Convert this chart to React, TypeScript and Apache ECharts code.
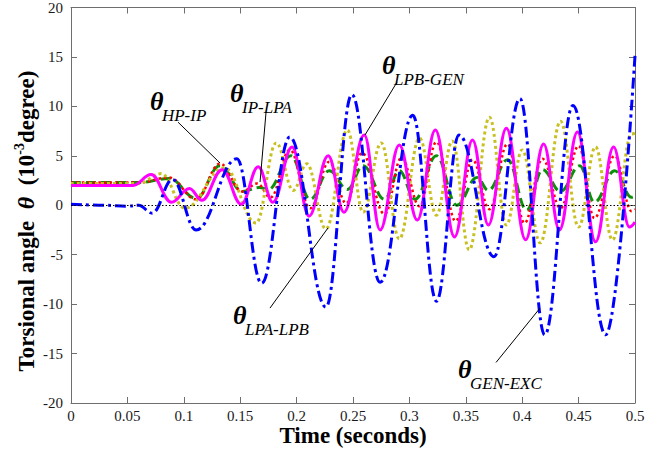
import React, { useEffect, useRef } from "react";
import * as echarts from "echarts";

// ---- data (time s, angle 1e-3 degree) ----
const hpIp: [number, number][] = [
  [0, 2.3], [0.06, 2.3], [0.087, 2.7], [0.111, 0.7], [0.132, 4.0], [0.152, 1.4], [0.167, 1.8], [0.175, 1.6],
  [0.195, 5.0], [0.212, 0.6], [0.229, 3.5], [0.245, 1.6], [0.259, 4.0], [0.278, 0.6], [0.291, 3.5], [0.305, 0.6],
  [0.324, 5.0], [0.342, 0.0], [0.36, 2.8], [0.37, 1.5], [0.387, 4.6], [0.404, -0.5], [0.418, 3.6], [0.434, 1.4],
  [0.451, 4.0], [0.464, 0.3], [0.482, 3.5], [0.497, 0.8], [0.5, 0.9],
];
const ipLpa: [number, number][] = [
  [0, 2.3], [0.06, 2.3], [0.087, 2.8], [0.111, 0.6], [0.132, 4.2], [0.152, 1.4], [0.165, 2.2], [0.177, 0.8],
  [0.194, 5.6], [0.212, -0.3], [0.229, 4.4], [0.244, 0.2], [0.258, 5.3], [0.278, -0.9], [0.293, 4.8], [0.309, -0.1],
  [0.324, 6.4], [0.341, -1.6], [0.356, 4.6], [0.371, -0.4], [0.387, 6.2], [0.402, -1.8], [0.418, 4.7], [0.434, -0.3],
  [0.45, 6.0], [0.464, -1.3], [0.482, 5.0], [0.497, -0.6], [0.5, -0.4],
];
const lpaLpb: [number, number][] = [
  [0, 2.2], [0.06, 2.2], [0.08, 3.2], [0.101, -0.3], [0.136, 3.8], [0.164, -1.8], [0.182, 6.3], [0.197, 1.5],
  [0.209, 4.2], [0.226, -2.4], [0.245, 7.6], [0.259, -0.7], [0.275, 6.3], [0.291, -3.4], [0.309, 6.8], [0.324, -1.0],
  [0.338, 6.5], [0.353, -4.5], [0.371, 8.9], [0.386, -2.0], [0.4, 5.6], [0.416, -3.8], [0.434, 8.5], [0.45, -2.2],
  [0.465, 5.9], [0.48, -3.5], [0.497, 7.2], [0.5, 7.3],
];
const lpbGen: [number, number][] = [
  [0, 2.0], [0.055, 2.0], [0.071, 3.1], [0.089, 0.3], [0.105, 1.7], [0.116, 0.5], [0.134, 3.6], [0.151, 0.1],
  [0.166, 3.9], [0.179, 0.3], [0.196, 5.9], [0.211, -1.1], [0.228, 5.0], [0.242, -0.7], [0.26, 7.1], [0.274, -2.5],
  [0.291, 6.1], [0.307, -1.5], [0.323, 7.6], [0.34, -3.2], [0.356, 6.6], [0.37, -2.0], [0.386, 7.8], [0.403, -3.5],
  [0.419, 6.2], [0.433, -2.5], [0.449, 7.4], [0.465, -3.7], [0.481, 5.9], [0.495, -2.2], [0.5, -1.7],
];
const genExc: [number, number][] = [
  [0, 0.1], [0.03, 0.0], [0.05, -0.1], [0.06, 0.0], [0.072, -0.8], [0.09, 2.6], [0.111, -2.5], [0.147, 4.7],
  [0.169, -7.9], [0.194, 6.9], [0.226, -10.3], [0.249, 11.2], [0.274, -7.8], [0.303, 9.1], [0.324, -9.7],
  [0.344, 7.1], [0.375, -5.2], [0.398, 10.8], [0.42, -13.1], [0.445, 10.1], [0.474, -13.1], [0.5, 15.1],
];

// annotations (data coordinates)
const annoNames = ["HP-IP", "IP-LPA", "LPB-GEN", "LPA-LPB", "GEN-EXC"];
const annoTextAt: [number, number][] = [[0.07, 10.5], [0.141, 11.3], [0.2757, 14.1], [0.1436, -11.1], [0.3431, -16.6]];
const annoLineFrom: [number, number][] = [[0.0949, 8.4], [0.1729, 9.4], [0.289, 12.45], [0.1764, -10.4], [0.3768, -15.9]];
const annoLineTo: [number, number][] = [[0.1321, 4.27], [0.1676, 2.35], [0.2606, 7.1], [0.2278, -2.3], [0.4158, -10.4]];

const FONT = "Times New Roman, Liberation Serif, Tinos, serif";
const AXIS_COLOR = "#6e6e6e";

export default function App() {
  const ref = useRef<HTMLDivElement>(null);
  useEffect(() => {
    if (!ref.current) return;
    const chart = echarts.init(ref.current, null, { renderer: "svg" });
    const axisCommonX = {
      type: "value" as const,
      min: 0,
      max: 0.5,
      interval: 0.05,
      axisLine: { show: true, onZero: false, lineStyle: { color: AXIS_COLOR, width: 1 } },
      axisTick: { show: true, inside: true, length: 6, lineStyle: { color: AXIS_COLOR } },
      splitLine: { show: false },
    };
    const axisCommonY = {
      type: "value" as const,
      min: -20,
      max: 20,
      interval: 5,
      axisLine: { show: true, onZero: false, lineStyle: { color: AXIS_COLOR, width: 1 } },
      axisTick: { show: true, inside: true, length: 6, lineStyle: { color: AXIS_COLOR } },
      splitLine: { show: false },
    };
    const smooth = 0.4;
    chart.setOption({
      animation: false,
      backgroundColor: "#ffffff",
      textStyle: { fontFamily: FONT },
      grid: { left: 71, right: 31, top: 7, bottom: 47, containLabel: false },
      xAxis: [
        {
          ...axisCommonX,
          position: "bottom",
          axisLabel: {
            color: "#1a1a1a",
            fontFamily: FONT,
            fontSize: 15,
            margin: 5,
            formatter: (v: number) => String(+v.toFixed(2)),
          },
        },
        { ...axisCommonX, position: "top", axisLabel: { show: false } },
      ],
      yAxis: [
        {
          ...axisCommonY,
          position: "left",
          axisLabel: { color: "#1a1a1a", fontFamily: FONT, fontSize: 15, margin: 8 },
        },
        { ...axisCommonY, position: "right", axisLabel: { show: false } },
      ],
      series: [
        {
          type: "line",
          name: "HP-IP",
          data: hpIp,
          symbol: "none",
          smooth,
          smoothMonotone: "x",
          lineStyle: { color: "#0c900c", width: 3, type: [10, 5] },
          markLine: {
            silent: true,
            symbol: ["none", "none"],
            label: { show: false },
            lineStyle: { color: "#000", width: 1, type: [1.5, 2] },
            data: [{ yAxis: 0 }],
          },
        },
        {
          type: "line",
          name: "IP-LPA",
          data: ipLpa,
          symbol: "none",
          smooth,
          smoothMonotone: "x",
          lineStyle: { color: "#ff0000", width: 2.5, type: [2.5, 3] },
        },
        {
          type: "line",
          name: "LPA-LPB",
          data: lpaLpb,
          symbol: "none",
          smooth,
          smoothMonotone: "x",
          lineStyle: { color: "#c8c020", width: 3, type: [3, 3] },
        },
        {
          type: "line",
          name: "LPB-GEN",
          data: lpbGen,
          symbol: "none",
          smooth,
          smoothMonotone: "x",
          lineStyle: { color: "#ff00ff", width: 3 },
        },
        {
          type: "line",
          name: "GEN-EXC",
          data: genExc,
          symbol: "none",
          smooth,
          smoothMonotone: "x",
          lineStyle: { color: "#0000ff", width: 3, type: [11, 4, 3, 4] },
        },
      ],
    });

    const toPx = (p: [number, number]) =>
      chart.convertToPixel({ xAxisIndex: 0, yAxisIndex: 0 }, p) as number[];
    const graphic: any[] = [];
    annoNames.forEach((name, i) => {
      const a = toPx(annoTextAt[i]);
      const f = toPx(annoLineFrom[i]);
      const t = toPx(annoLineTo[i]);
      graphic.push({
        type: "line",
        z: 100,
        silent: true,
        shape: { x1: f[0], y1: f[1], x2: t[0], y2: t[1] },
        style: { stroke: "#000", lineWidth: 1 },
      });
      graphic.push({
        type: "text",
        z: 100,
        x: a[0],
        y: a[1],
        style: {
          text: "θ",
          fontFamily: FONT,
          fontStyle: "italic",
          fontWeight: "bold",
          fontSize: 26,
          fill: "#000",
          align: "left",
          verticalAlign: "middle",
        },
      });
      graphic.push({
        type: "text",
        z: 100,
        x: a[0] + 12,
        y: a[1] + 14,
        style: {
          text: name,
          fontFamily: FONT,
          fontStyle: "italic",
          fontSize: 17,
          fill: "#000",
          align: "left",
          verticalAlign: "middle",
        },
      });
    });
    // axis titles
    graphic.push({
      type: "text",
      x: 353,
      y: 435,
      style: {
        text: "Time (seconds)",
        fontFamily: FONT,
        fontWeight: "bold",
        fontSize: 23,
        fill: "#000",
        align: "center",
        verticalAlign: "middle",
      },
    });
    graphic.push({
      type: "text",
      x: 25,
      y: 221,
      rotation: Math.PI / 2,
      style: {
        text: "{a|Torsional angle  }{b|θ}{a|  (10}{c|-3}{a|degree)}",
        fontFamily: FONT,
        fill: "#000",
        align: "center",
        verticalAlign: "middle",
        rich: {
          a: { fontFamily: FONT, fontWeight: "bold", fontSize: 23, lineHeight: 26, verticalAlign: "bottom" },
          b: { fontFamily: FONT, fontWeight: "bold", fontStyle: "italic", fontSize: 24, lineHeight: 26, verticalAlign: "bottom" },
          c: { fontFamily: FONT, fontWeight: "bold", fontSize: 14, lineHeight: 16, verticalAlign: "top" },
        },
      },
    });
    chart.setOption({ graphic });
    return () => chart.dispose();
  }, []);
  return (
    <div
      ref={ref}
      style={{ position: "fixed", left: 0, top: 0, width: 666, height: 450, background: "#fff" }}
    />
  );
}
